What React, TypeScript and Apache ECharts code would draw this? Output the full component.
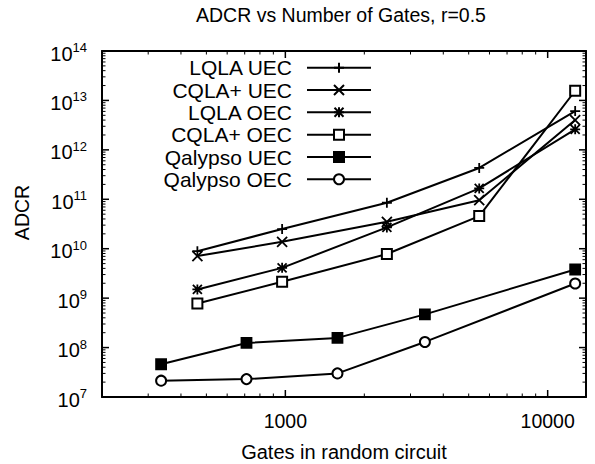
import React, { useEffect, useRef } from "react";
import * as echarts from "echarts";

const seriesNames = ["LQLA UEC", "CQLA+ UEC", "LQLA OEC", "CQLA+ OEC", "Qalypso UEC", "Qalypso OEC"];
const gatesQLA = [462, 972, 2438, 5483, 12730];
const gatesQalypso = [336, 711, 1580, 3404, 12730];
const lqlaUEC = [8.9e9, 2.5e10, 8.5e10, 4.3e11, 6.1e12];
const cqlaUEC = [7.1e9, 1.38e10, 3.5e10, 9.6e10, 4.0e12];
const lqlaOEC = [1.5e9, 4.1e9, 2.7e10, 1.66e11, 2.6e12];
const cqlaOEC = [7.8e8, 2.14e9, 7.8e9, 4.57e10, 1.57e13];
const qalypsoUEC = [4.6e7, 1.24e8, 1.57e8, 4.7e8, 3.8e9];
const qalypsoOEC = [2.14e7, 2.3e7, 3.0e7, 1.3e8, 1.98e9];

const xMajorTicks = [1000, 10000];
const xMinorTicks = [200, 300, 400, 500, 600, 700, 800, 900, 2000, 3000, 4000, 5000, 6000, 7000, 8000, 9000];
const yMajorTicks = [1e7, 1e8, 1e9, 1e10, 1e11, 1e12, 1e13, 1e14];
const yMinorMantissas = [2, 3, 4, 5, 6, 7, 8, 9];

const X_MIN = 200, X_MAX = 14000, Y_MIN = 1e7, Y_MAX = 1e14;

const FONT = "Liberation Sans, Arial, sans-serif";

const PLUS = "path://M5 0L5 10M0 5L10 5";
const CROSS = "path://M0 0L10 10M10 0L0 10";
const STAR = "path://M5 0L5 10M0 5L10 5M0.5 0.5L9.5 9.5M9.5 0.5L0.5 9.5";

export default function App() {
  const ref = useRef<HTMLDivElement>(null);
  useEffect(() => {
    if (!ref.current) return;
    const chart = echarts.init(ref.current, null, { renderer: "svg" });
    const black = "#000";
    const mk = (name: string, xs: number[], ys: number[], symbol: string) => ({
      type: "line",
      name,
      data: xs.map((x, i) => [x, ys[i]]),
      symbol,
      symbolSize: 10,
      showAllSymbol: true,
      lineStyle: { color: black, width: 2 },
      itemStyle: { color: black, borderColor: black, borderWidth: 1.8 },
      emphasis: { disabled: true },
      z: 3,
    });
    const legendRows = [67.7, 90, 112.3, 134.7, 157, 179.3];
    const yMinorTicks: number[] = [];
    yMajorTicks.slice(0, -1).forEach((d) => yMinorMantissas.forEach((m) => yMinorTicks.push(d * m)));

    const axisLine = { show: true, onZero: false, lineStyle: { color: black, width: 2 } };
    const frameX = { type: "log", min: X_MIN, max: X_MAX, logBase: 10, splitLine: { show: false }, minorTick: { show: false }, axisTick: { show: false }, axisLine };
    const frameY = { type: "log", min: Y_MIN, max: Y_MAX, logBase: 10, splitLine: { show: false }, minorTick: { show: false }, axisTick: { show: false }, axisLine };

    const option: any = {
      animation: false,
      title: {
        text: "ADCR vs Number of Gates, r=0.5",
        left: 196,
        top: 5,
        padding: 0,
        textStyle: { fontFamily: FONT, fontSize: 19.5, fontWeight: "normal", color: black },
      },
      grid: { left: 102, right: 9, top: 51, bottom: 67, containLabel: false, outerBoundsMode: "none" },
      legend: seriesNames.map((n, i) => ({
        data: [n],
        orient: "vertical",
        align: "right",
        right: 223,
        top: legendRows[i] - 10.5,
        padding: 0,
        itemWidth: 64,
        itemHeight: 12.5,
        selectedMode: false,
        textStyle: { fontFamily: FONT, fontSize: 21, color: black, padding: [0, 10, 0, 0] },
      })),
      xAxis: [
        {
          ...frameX,
          position: "bottom",
          axisLabel: { show: true, customValues: xMajorTicks, margin: 14, fontFamily: FONT, fontSize: 19.5, color: black, formatter: (v: number) => String(Math.round(v)) },
          name: "Gates in random circuit",
          nameLocation: "middle",
          nameGap: 45,
          nameTextStyle: { fontFamily: FONT, fontSize: 20, color: black },
        },
        { ...frameX, position: "top", axisLabel: { show: false } },
      ],
      yAxis: [
        {
          ...frameY,
          position: "left",
          axisLabel: {
            show: true,
            customValues: yMajorTicks,
            margin: 15,
            formatter: (v: number) => `{b|10}{s|${Math.round(Math.log10(v))}}`,
            rich: {
              b: { fontFamily: FONT, fontSize: 20, color: black, lineHeight: 20, padding: [9, 0, 4, 0] },
              s: { fontFamily: FONT, fontSize: 13, color: black, lineHeight: 13, verticalAlign: "top" },
            },
          },
        },
        { ...frameY, position: "right", axisLabel: { show: false } },
      ],
      series: [
        mk(seriesNames[0], gatesQLA, lqlaUEC, PLUS),
        mk(seriesNames[1], gatesQLA, cqlaUEC, CROSS),
        mk(seriesNames[2], gatesQLA, lqlaOEC, STAR),
        mk(seriesNames[3], gatesQLA, cqlaOEC, "emptyRect"),
        mk(seriesNames[4], gatesQalypso, qalypsoUEC, "rect"),
        mk(seriesNames[5], gatesQalypso, qalypsoOEC, "emptyCircle"),
      ],
    };
    chart.setOption(option);

    // Tick marks (inward, mirrored on all four sides), placed with the axes' own scales
    const xp = (v: number) => Number(chart.convertToPixel({ xAxisIndex: 0 }, v));
    const yp = (v: number) => Number(chart.convertToPixel({ yAxisIndex: 0 }, v));
    const xL = xp(X_MIN), xR = xp(X_MAX), yB = yp(Y_MIN), yT = yp(Y_MAX);
    const g: any[] = [];
    const seg = (x1: number, y1: number, x2: number, y2: number, w: number) => {
      g.push({ type: "line", shape: { x1, y1, x2, y2 }, style: { stroke: "#000", lineWidth: w } });
    };
    const MAJ = 7, MIN = 3.5;
    xMajorTicks.forEach((v) => { const x = xp(v); seg(x, yB, x, yB - MAJ, 1.5); seg(x, yT, x, yT + MAJ, 1.5); });
    xMinorTicks.forEach((v) => { const x = xp(v); seg(x, yB, x, yB - MIN, 1); seg(x, yT, x, yT + MIN, 1); });
    yMajorTicks.forEach((v) => { const y = yp(v); seg(xL, y, xL + MAJ, y, 1.5); seg(xR, y, xR - MAJ, y, 1.5); });
    yMinorTicks.forEach((v) => { const y = yp(v); seg(xL, y, xL + MIN, y, 1); seg(xR, y, xR - MIN, y, 1); });
    g.push({
      type: "text", x: 22, y: 212.5, rotation: Math.PI / 2,
      style: { text: "ADCR", fontFamily: FONT, fontSize: 19.5, fill: black, align: "center", verticalAlign: "middle" },
    });
    chart.setOption({ graphic: g });
    return () => chart.dispose();
  }, []);
  return <div ref={ref} style={{ width: 595, height: 464, position: "absolute", left: 0, top: 0 }} />;
}
